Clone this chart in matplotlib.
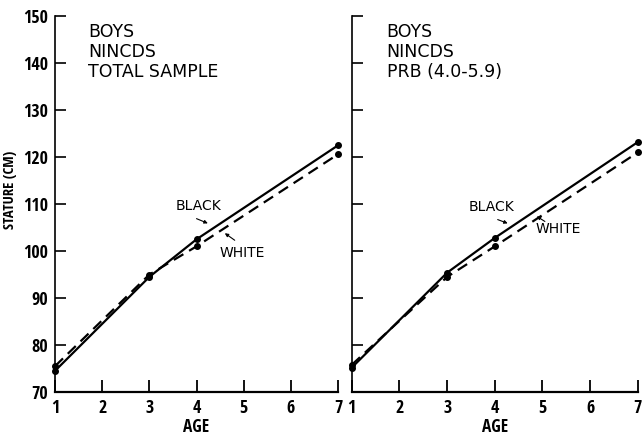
import matplotlib
matplotlib.use("Agg")
import matplotlib.pyplot as plt

ages = [1, 3, 4, 7]
total_black = [74.5, 94.5, 102.5, 122.5]
total_white = [75.5, 95.0, 101.0, 120.6]
prb_black = [75.2, 95.4, 102.8, 123.2]
prb_white = [75.8, 94.5, 101.0, 121.0]

titles = [["BOYS", "NINCDS", "TOTAL SAMPLE"], ["BOYS", "NINCDS", "PRB (4.0-5.9)"]]
xticks = [1, 2, 3, 4, 5, 6, 7]
yticks = [70, 80, 90, 100, 110, 120, 130, 140, 150]

narrow = ["Open Sans Condensed", "IBM Plex Sans Condensed", "DejaVu Sans"]

fig = plt.figure(figsize=(6.42, 4.37), dpi=100)
axL = fig.add_axes([0.0857, 0.103, 0.4408, 0.860])
axR = fig.add_axes([0.548, 0.103, 0.4455, 0.860])

panels = [(axL, total_black, total_white), (axR, prb_black, prb_white)]
for i, (ax, b, w) in enumerate(panels):
    ax.plot(ages, b, color="black", lw=1.6, marker="o", ms=4, ls="-", clip_on=False)
    ax.plot(ages, w, color="black", lw=1.6, marker="o", ms=4, ls=(0, (5, 3)), clip_on=False)
    ax.set_xlim(1, 7)
    ax.set_ylim(70, 150)
    ax.set_xticks(xticks)
    ax.set_yticks(yticks)
    for s in ["top", "right"]:
        ax.spines[s].set_visible(False)
    ax.spines["left"].set_linewidth(1.2)
    ax.spines["bottom"].set_linewidth(1.6)
    ax.tick_params(axis="x", direction="in", length=9, width=1.3, pad=5)
    ax.tick_params(axis="y", direction="in", length=8, width=1.2, pad=5)
    for lab in ax.get_xticklabels() + ax.get_yticklabels():
        lab.set_fontfamily(narrow)
        lab.set_fontweight("bold")
        lab.set_fontsize(13)
    ax.set_xlabel("AGE", fontsize=12.5, fontweight="bold", family=narrow, labelpad=1)
    ax.text(0.117 if i == 0 else 0.122, 0.982, "\n".join(titles[i]), transform=ax.transAxes,
            ha="left", va="top", fontsize=12.5, family="DejaVu Sans", linespacing=1.14)

axR.tick_params(axis="y", labelleft=False)
axL.set_ylabel("STATURE (CM)", fontsize=10.5, fontweight="bold", family=narrow)
axL.yaxis.set_label_coords(-0.135, 0.537)

arrow = dict(arrowstyle="-|>", color="black", lw=0.8, mutation_scale=5,
             shrinkA=0, shrinkB=0)

def label(ax, text, pos, start, end):
    ax.text(pos[0], pos[1], text, fontsize=10, family="DejaVu Sans", ha="center", va="center")
    ax.annotate("", xy=end, xytext=start, arrowprops=arrow)

label(axL, "BLACK", (4.05, 109.5), (4.0, 106.9), (4.24, 105.9))
label(axL, "WHITE", (4.96, 99.5), (4.81, 102.3), (4.60, 103.8))
label(axR, "BLACK", (3.94, 109.3), (4.06, 106.7), (4.27, 105.9))
label(axR, "WHITE", (5.32, 104.7), (5.05, 106.3), (4.88, 107.4))

fig.savefig("out.png", dpi=100)
